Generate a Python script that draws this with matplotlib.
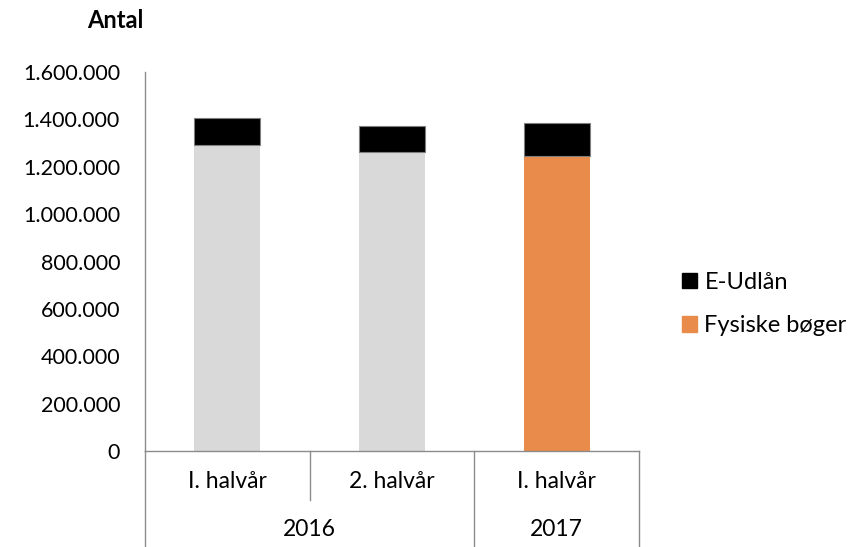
import matplotlib.pyplot as plt
from matplotlib.patches import Patch
from matplotlib.ticker import FuncFormatter
from matplotlib import transforms

# Udlån pr. halvår
halvaar = ['I. halvår', '2. halvår', 'I. halvår']
aar = ['2016', '2017']
aar_spaend = [(0, 1), (2, 2)]  # hvilke søjler hvert år dækker
fysiske = [1292000, 1261000, 1247000]
e_udlaan = [112500, 112300, 136700]
farver_fysiske = ['#D9D9D9', '#D9D9D9', '#E98B4A']

plt.rcParams['font.family'] = ['Lato', 'DejaVu Sans']

fig = plt.figure(figsize=(8.63, 5.47), dpi=100)
ax = fig.add_axes([145 / 863, 1 - 451 / 547, (639 - 145) / 863, (451 - 72) / 547])

x = list(range(len(halvaar)))
ax.bar(x, fysiske, width=0.4, color=farver_fysiske, zorder=2)
ax.bar(x, e_udlaan, bottom=fysiske, width=0.4, color='black',
       edgecolor='#7f7f7f', linewidth=0.8, zorder=2)

ax.set_xlim(-0.5, len(halvaar) - 0.5)
ax.set_ylim(0, 1600000)
ax.set_yticks(range(0, 1600001, 200000))
ax.yaxis.set_major_formatter(FuncFormatter(lambda v, p: f"{v:,.0f}".replace(",", ".")))
ax.tick_params(axis='y', length=0, pad=18, labelsize=15.5)
ax.set_xticks([])

for s in ['top', 'right']:
    ax.spines[s].set_visible(False)
for s in ['left', 'bottom']:
    ax.spines[s].set_color('#8c8c8c')
    ax.spines[s].set_linewidth(1)

# to-niveau kategoriakse
tr = transforms.blended_transform_factory(ax.transData, fig.transFigure)
y0 = 1 - 451 / 547
y_mid = 1 - 500 / 547
y_bund = 0.0
linje = dict(color='#8c8c8c', lw=1, transform=tr, clip_on=False)

for i, lbl in enumerate(halvaar):
    fig.text(i, 1 - 482 / 547, lbl, transform=tr, ha='center', va='center', fontsize=16.5)
for (a, b), lbl in zip(aar_spaend, aar):
    fig.text((a + b) / 2, 1 - 529 / 547, lbl, transform=tr, ha='center', va='center', fontsize=16.5)

ax.plot([0.5, 0.5], [y0, y_mid], **linje)
for xs in [-0.5, 1.5, 2.5]:
    ax.plot([xs, xs], [y0, y_bund], **linje)

fig.text(115 / 863, 1 - 21 / 547, 'Antal', ha='center', va='center',
         fontsize=17, fontweight='bold')

handles = [Patch(color='black'), Patch(color='#E98B4A')]
fig.legend(handles, ['E-Udlån', 'Fysiske bøger'], loc='center left',
           bbox_to_anchor=(682 / 863, 1 - 304 / 547), frameon=False,
           fontsize=17, handlelength=0.65, handleheight=0.65,
           handletextpad=0.3, labelspacing=0.95, borderpad=0, borderaxespad=0)

fig.savefig('out.png', dpi=100)
